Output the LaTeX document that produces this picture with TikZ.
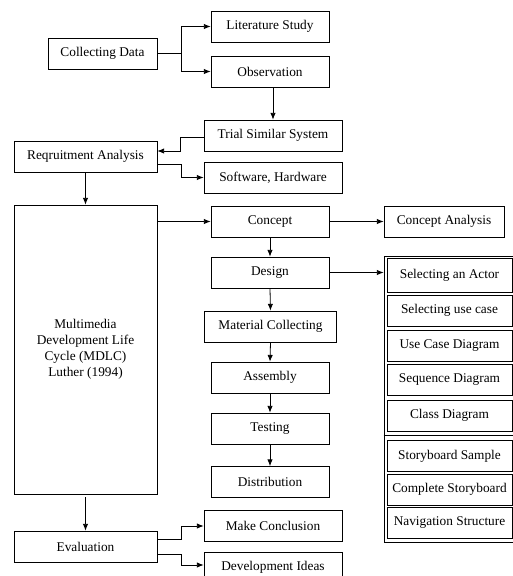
\documentclass[tikz,border=0pt]{standalone}
\usepackage{fontspec}
\setmainfont{Liberation Serif}
\usetikzlibrary{arrows.meta,calc}

\begin{document}
\begin{tikzpicture}
            [x=0.75pt, y=-0.75pt,
            every node/.style={draw, rectangle, align=center, line width=0.6pt, inner sep=1pt},
            box/.style={minimum width=88.5pt, minimum height=23.25pt},
            widebox/.style={minimum width=103.5pt, minimum height=23.25pt},
            sidebox/.style={minimum width=107.25pt, minimum height=23.25pt},
            listbox/.style={minimum width=93.75pt, minimum height=23.25pt},
            flow/.style={-{Latex[length=5pt,width=4pt]}, line width=0.6pt}]

            \useasboundingbox (0,0) rectangle (513,576);

            \node[minimum width=81.75pt, minimum height=23.25pt] (collect) at (102.5,53.5) {Collecting Data};
            \node[box] (literature) at (270,26.5) {Literature Study};
            \node[box] (observation) at (270,71.5) {Observation};
            \node[widebox] (trial) at (273,135.5) {Trial Similar System};
            \node[widebox] (software) at (273,177.5) {Software, Hardware};
            \node[sidebox] (requirement) at (85.5,156.5) {Reqruitment Analysis};
            \node[minimum width=107.25pt, minimum height=216.75pt] (mdlc) at (85.5,349.5)
                {Multimedia\\Development Life\\Cycle (MDLC)\\Luther (1994)};
            \node[sidebox] (evaluation) at (85.5,546.5) {Evaluation};

            \node[box] (concept) at (270,221.5) {Concept};
            \node[box] (design) at (270,272.5) {Design};
            \node[minimum width=99pt, minimum height=23.25pt] (material) at (270.5,326.5) {Material Collecting};
            \node[box] (assembly) at (270,377.5) {Assembly};
            \node[box] (testing) at (270,428.5) {Testing};
            \node[box] (distribution) at (270,482) {Distribution};
            \node[widebox] (conclusion) at (273,526) {Make Conclusion};
            \node[widebox] (ideas) at (273,567.5) {Development Ideas};

            \node[minimum width=90pt, minimum height=23.25pt] (conceptanalysis) at (444,221.5) {Concept Analysis};

            \node[minimum width=99pt, minimum height=214.5pt] (panel) at (450,399) {};
            \draw[line width=0.6pt] (panel.west |- 0,435) -- (panel.east |- 0,435);
            \node[listbox, minimum height=25.5pt] (actor) at (449.5,275) {Selecting an Actor};
            \node[listbox] (usecase) at (449.5,310.5) {Selecting use case};
            \node[listbox] (ucdiagram) at (449.5,345.5) {Use Case Diagram};
            \node[listbox] (sequence) at (449.5,379.5) {Sequence Diagram};
            \node[listbox] (class) at (449.5,415.5) {Class Diagram};
            \node[listbox] (sample) at (449.5,456) {Storyboard Sample};
            \node[listbox] (complete) at (449.5,489.5) {Complete Storyboard};
            \node[listbox] (navigation) at (449.5,523) {Navigation Structure};

            \draw[line width=0.6pt] (collect.east) -- ++(24,0) coordinate (split);
            \draw[flow] (split) |- (literature.west);
            \draw[flow] (split) |- (observation.west);
            \draw[flow] (observation.south -| trial.north) -- (trial.north);
            \draw[flow] ($(trial.west)+(0,1.5)$) -- ++(-23,0) |- ($(requirement.east)+(0,-5.5)$);
            \draw[flow] ($(requirement.east)+(0,7.5)$) -- ++(24,0) |- (software.west);
            \draw[flow] (requirement.south) -- (mdlc.north);
            \draw[flow] (mdlc.east |- concept.west) -- (concept.west);
            \draw[flow] (concept.east) -- (conceptanalysis.west);
            \draw[flow] (design.east) -- (panel.west |- design.east);
            \foreach \from/\to in {concept/design, design/material, material/assembly,
                                   assembly/testing, testing/distribution}
                \draw[flow] (\from.south) -- (\to.north);
            \draw[flow] ($(mdlc.south)+(0,3)$) -- (evaluation.north);
            \draw[flow] ($(evaluation.east)+(0,-7.5)$) -- ++(24,0) |- (conclusion.west);
            \draw[flow] ($(evaluation.east)+(0,7.5)$) -- ++(24,0) |- ($(ideas.west)+(0,-2.5)$);
        \end{tikzpicture}
\end{document}
